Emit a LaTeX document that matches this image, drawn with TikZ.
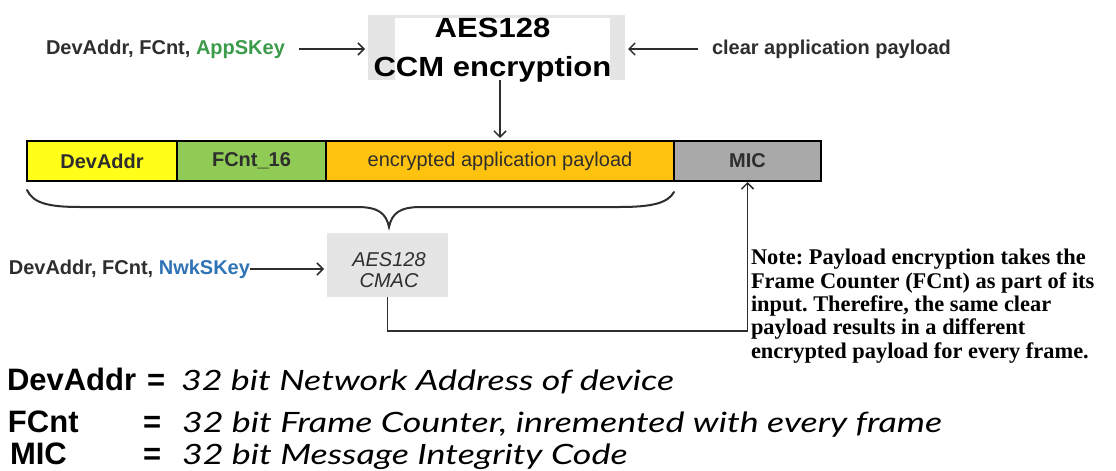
\documentclass[tikz,border=0pt]{standalone}
\usepackage{fontspec}
\setmainfont{Liberation Sans}
\newfontfamily\notefont{Liberation Serif}
\newfontfamily\handfont{Lato}[FakeStretch=1.28]
\newfontfamily\titlefont{Liberation Sans}[FakeStretch=1.12]
\usetikzlibrary{arrows.meta}

\definecolor{ink}{HTML}{2E2E2E}
\definecolor{appgreen}{HTML}{3B9B4A}
\definecolor{nwkblue}{HTML}{2F74B5}
\definecolor{cyellow}{HTML}{FFFF1A}
\definecolor{cgreen}{HTML}{8FCB55}
\definecolor{corange}{HTML}{FFC20E}
\definecolor{cgray}{HTML}{A9A9A9}
\definecolor{boxgray}{HTML}{E5E5E5}

\newcommand\setsize[2]{\fontsize{#1pt}{#2pt}\selectfont}

\begin{document}
\frenchspacing
\begin{tikzpicture}[x=1pt,y=-1pt,
  every node/.style={inner sep=0pt, outer sep=0pt, text=ink},
  arr/.style={draw=ink, line width=1.5pt, -{Straight Barb[length=6pt,width=12pt]}, shorten >=3pt},
  intxt/.style={font=\setsize{20}{24}\bfseries},
  cell/.style={draw=black, line width=1.4pt, minimum height=40pt, anchor=center, font=\setsize{20}{24}\bfseries},
  graybox/.style={fill=boxgray, anchor=center},
  titletxt/.style={font=\titlefont\setsize{27.7}{39}\bfseries, text=black, align=center},
  cmactxt/.style={font=\setsize{20}{21}\itshape, align=center},
  notetxt/.style={font=\notefont\setsize{22.4}{23.3}\bfseries, text=black, align=left},
  legkey/.style={font=\setsize{31}{31}\bfseries, text=black},
  legval/.style={font=\handfont\setsize{28}{28}\itshape, text=black},
  bracepath/.style={draw=ink, line width=2pt, line cap=round}]

\fill[white] (0,0) rectangle (1116,471);
\useasboundingbox (0,0) rectangle (1116,471);

% encryption block (the base anchor of a multi-line node is its last line)
\node[graybox, minimum width=257pt, minimum height=65pt] (ccm) at (496.5,47.5) {};
\node[fill=white, minimum width=215pt, minimum height=62pt] (ccmface) at (502.5,49) {};
\node[titletxt, anchor=base] (ccmtxt) at (492.5,76) {AES128\\CCM encryption};

% inputs of the encryption block
\node[intxt, anchor=west] (inA) at (46,49) {DevAddr, FCnt, \textcolor{appgreen}{AppSKey}};
\node[intxt, anchor=west] (inB) at (712,49) {clear application payload};
\draw[arr, shorten <=14pt] (inA.east) -- (inA.east -| ccm.west);
\draw[arr, shorten <=14pt] (inB.west) -- (inB.west -| ccm.east);

% frame fields
\node[cell, fill=cyellow, minimum width=150pt] (dev) at (102,161) {DevAddr};
\node[cell, fill=cgreen, minimum width=149pt] (fcnt) at (251.5,161) {FCnt\_16};
\node[cell, fill=corange, minimum width=348pt, font=\setsize{20}{24}\mdseries] (pay) at (500,161) {encrypted application payload};
\node[cell, fill=cgray, minimum width=147pt] (mic) at (747.5,161) {MIC};

\draw[arr] (pay.north |- ccm.south) -- (pay.north);

% brace over the fields fed into the MIC
\draw[bracepath] (27,190) .. controls (33,203) and (48,207) .. (80,207)
  -- (357,207) .. controls (378,207) and (386,213) .. (389,227)
  .. controls (392,213) and (400,207) .. (421,207)
  -- (620,207) .. controls (652,207) and (668,203) .. (674,192);

% MIC computation
\node[graybox, minimum width=121pt, minimum height=64pt] (cmac) at (387.5,265) {};
\node[cmactxt] (cmactxt) at (389,270) {AES128\\CMAC};
\node[intxt, anchor=east] (inC) at (250,269) {DevAddr, FCnt, \textcolor{nwkblue}{NwkSKey}};
\draw[arr] (inC.east) -- (inC.east -| cmac.west);

\coordinate (lowy) at (0,331);
\draw[arr, shorten >=1pt] (cmac.south) |- (mic.south |- lowy) -- (mic.south);

% note
\node[notetxt, anchor=base west] (note) at (751,358) {Note: Payload encryption takes the\\Frame Counter (FCnt) as part of its\\input. Therefire, the same clear\\payload results in a different\\encrypted payload for every frame.};

% legend
\node[legkey, anchor=base west] (kdev) at (7,390) {DevAddr};
\node[legkey, anchor=base west] (edev) at (147,390) {=};
\node[legval, anchor=base west] (vdev) at (181,390) {32 bit Network Address of device};
\node[legkey, anchor=base west] (kfc) at (8,432) {FCnt};
\node[legkey, anchor=base west] (efc) at (143,432) {=};
\node[legval, anchor=base west] (vfc) at (182,432) {32 bit Frame Counter, inremented with every frame};
\node[legkey, anchor=base west] (kmic) at (10,464) {MIC};
\node[legkey, anchor=base west] (emic) at (143,464) {=};
\node[legval, anchor=base west] (vmic) at (182,464) {32 bit Message Integrity Code};
\end{tikzpicture}
\end{document}
